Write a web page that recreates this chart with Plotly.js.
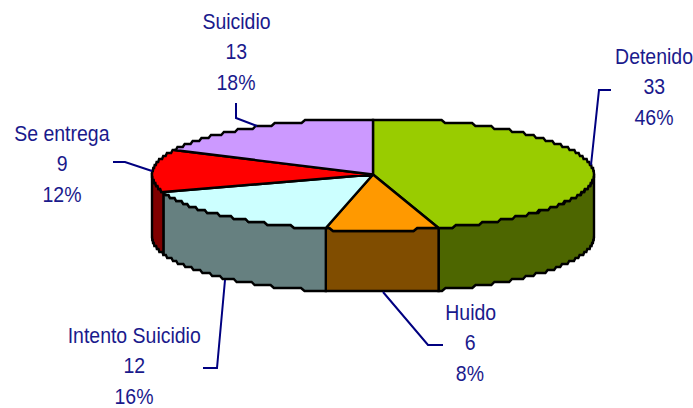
<!DOCTYPE html>
<html>
<head>
<meta charset="utf-8">
<script src="https://cdn.plot.ly/plotly-3.0.1.min.js"></script>
<style>html,body{margin:0;padding:0;background:#fff}#chart{width:693px;height:408px}</style>
</head>
<body>
<div id="chart"></div>
<script>
const categories = ["Detenido", "Huido", "Intento Suicidio", "Se entrega", "Suicidio"];
const values = [33, 6, 12, 9, 13];
const percents = ["46%", "8%", "16%", "12%", "18%"];
const topColors = ["#99CC00", "#FF9900", "#CCFFFF", "#FF0000", "#CC99FF"];
const sideColors = ["#4D6600", "#804D00", "#668080", "#800000", "#665080"];
const labelCentres = [[654, 56], [470, 312], [134, 335], [62, 133], [236, 21]];
const leaders = [
  [[611, 90], [599, 90], [591, 165]],
  [[383, 292], [428, 345], [443, 345]],
  [[225, 280], [217, 368], [203, 368]],
  [[113, 162], [125, 162], [152, 171]],
  [[236, 103], [236, 118], [257, 126]]
];

const CX = 373, CY = 174.5, RX = 221, RY = 56, DEPTH = 62, LINE_GAP = 30.5, STEP = 3;
const total = values.reduce((a, b) => a + b, 0);

function pt(t, dy) {
  const y = CY + dy - RY * Math.cos(t);
  return [CX + RX * Math.sin(t), Math.round(y / STEP) * STEP];
}
function arc(t0, t1, dy) {
  const n = Math.max(2, Math.ceil(Math.abs(t1 - t0) * 60));
  const out = [];
  for (let i = 0; i <= n; i++) out.push(pt(t0 + (t1 - t0) * i / n, dy));
  return out;
}
function poly(points, fill, color, width) {
  return {
    type: "scatter", mode: "lines", hoverinfo: "skip", showlegend: false,
    x: points.map(p => p[0]), y: points.map(p => p[1]),
    fill: fill ? "toself" : "none", fillcolor: fill || undefined,
    line: {color: color, width: width, simplify: false}
  };
}

const traces = [];
const tops = [];
let acc = 0;
values.forEach((v, i) => {
  const t0 = acc / total * 2 * Math.PI;
  acc += v;
  const t1 = acc / total * 2 * Math.PI;
  const s0 = Math.max(t0, Math.PI / 2), s1 = Math.min(t1, 3 * Math.PI / 2);
  if (s1 > s0) {
    const wall = arc(s0, s1, 0).concat(arc(s1, s0, DEPTH));
    wall.push(wall[0]);
    traces.push(poly(wall, sideColors[i], "#000000", 2.4));
  }
  tops.push(poly([[CX, CY]].concat(arc(t0, t1, 0), [[CX, CY]]), topColors[i], "#000000", 2.4));
});
traces.push(...tops);
leaders.forEach(l => traces.push(poly(l, null, "#000080", 2)));

const annotations = [];
categories.forEach((c, i) => {
  [c, String(values[i]), percents[i]].forEach((txt, k) => {
    annotations.push({
      x: labelCentres[i][0], y: labelCentres[i][1] + k * LINE_GAP, xref: "x", yref: "y",
      text: txt, showarrow: false, xanchor: "center", yanchor: "middle",
      font: {family: "'Liberation Sans',Arial,sans-serif", size: 22, color: "#1A1A8C"}
    });
  });
});

const NARROW = 0.885;
Plotly.newPlot("chart", traces, {
  width: 693, height: 408,
  margin: {l: 0, r: 0, t: 0, b: 0},
  paper_bgcolor: "#ffffff", plot_bgcolor: "#ffffff",
  showlegend: false, hovermode: false,
  xaxis: {range: [0, 693], visible: false, fixedrange: true},
  yaxis: {range: [408, 0], visible: false, fixedrange: true},
  annotations: annotations
}, {displayModeBar: false, staticPlot: true}).then(gd => {
  gd.querySelectorAll(".annotation-text").forEach(el => {
    const box = el.getBBox();
    const mid = box.x + box.width / 2;
    el.setAttribute("transform", "translate(" + mid + " 0) scale(" + NARROW + " 1) translate(" + (-mid) + " 0)");
  });
});
</script>
</body>
</html>
